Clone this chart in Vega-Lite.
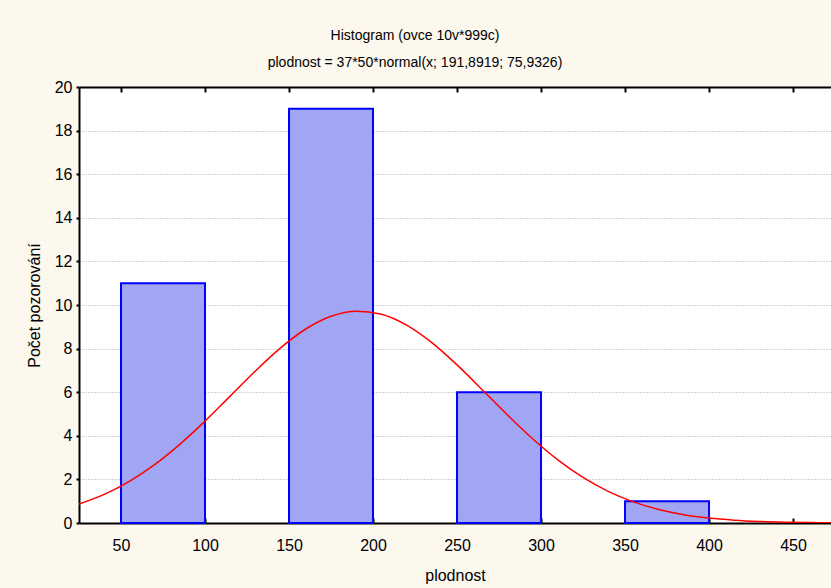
{
  "$schema": "https://vega.github.io/schema/vega-lite/v6.json",
  "autosize": {"type": "none"},
  "width": 752,
  "height": 436,
  "padding": {"left": 79, "top": 87, "right": 0, "bottom": 65},
  "background": "#fcf8ee",
  "config": {
    "font": "Liberation Sans",
    "view": {"stroke": null, "fill": "white"},
    "axis": {
      "labelFont": "Liberation Sans",
      "titleFont": "Liberation Sans",
      "labelFontSize": 16,
      "titleFontSize": 16,
      "titleFontWeight": "normal",
      "labelColor": "black",
      "titleColor": "black",
      "domainColor": "black",
      "domainWidth": 2,
      "tickColor": "black"
    }
  },
  "title": {
    "text": "Histogram (ovce 10v*999c)",
    "subtitle": "plodnost = 37*50*normal(x; 191,8919; 75,9326)",
    "font": "'Liberation Sans Narrow', 'Liberation Sans', sans-serif",
    "subtitleFont": "'Liberation Sans Narrow', 'Liberation Sans', sans-serif",
    "fontSize": 14,
    "subtitleFontSize": 14,
    "fontWeight": "normal",
    "color": "black",
    "subtitleColor": "black",
    "anchor": "middle",
    "frame": "group",
    "dx": -40,
    "offset": 9,
    "subtitlePadding": 13
  },
  "datasets": {
    "bins": [
      {"od": 50, "do": 100, "pocet": 11},
      {"od": 150, "do": 200, "pocet": 19},
      {"od": 250, "do": 300, "pocet": 6},
      {"od": 350, "do": 400, "pocet": 1}
    ],
    "curve": [
      {"x": 25, "y": 0.8683}, {"x": 40, "y": 1.3145}, {"x": 55, "y": 1.9138},
      {"x": 70, "y": 2.6798}, {"x": 85, "y": 3.6087}, {"x": 100, "y": 4.6735},
      {"x": 115, "y": 5.8208}, {"x": 130, "y": 6.9723}, {"x": 145, "y": 8.0324},
      {"x": 160, "y": 8.8992}, {"x": 175, "y": 9.4822}, {"x": 190, "y": 9.7167},
      {"x": 205, "y": 9.5760}, {"x": 220, "y": 9.0761}, {"x": 235, "y": 8.2730},
      {"x": 250, "y": 7.2522}, {"x": 265, "y": 6.1144}, {"x": 280, "y": 4.9578},
      {"x": 295, "y": 3.8659}, {"x": 310, "y": 2.8993}, {"x": 325, "y": 2.0911},
      {"x": 340, "y": 1.4504}, {"x": 355, "y": 0.9676}, {"x": 370, "y": 0.6208},
      {"x": 385, "y": 0.3831}, {"x": 400, "y": 0.2273}, {"x": 415, "y": 0.1297},
      {"x": 430, "y": 0.0712}, {"x": 445, "y": 0.0376}, {"x": 460, "y": 0.0191},
      {"x": 475, "y": 0.0093}
    ]
  },
  "layer": [
    {
      "data": {"name": "bins"},
      "mark": {"type": "rect", "fill": "#a0a6f4", "stroke": "#0000ff", "strokeWidth": 2},
      "encoding": {
        "x": {
          "field": "od", "type": "quantitative",
          "scale": {"domain": [25, 472.6], "nice": false, "zero": false},
          "axis": {
            "orient": "bottom", "title": "plodnost", "values": [50, 100, 150, 200, 250, 300, 350, 400, 450],
            "grid": false, "tickSize": -5, "tickWidth": 2, "labelPadding": 19, "titlePadding": 14
          }
        },
        "x2": {"field": "do"},
        "y": {
          "field": "pocet", "type": "quantitative",
          "scale": {"domain": [0, 20], "nice": false},
          "axis": {
            "title": "Počet pozorování", "values": [0, 2, 4, 6, 8, 10, 12, 14, 16, 18, 20],
            "grid": true, "gridColor": "#a8a8a8", "gridDash": [1, 2], "gridWidth": 1,
            "tickSize": 3, "tickWidth": 2, "labelPadding": 4, "titlePadding": 12
          }
        }
      }
    },
    {
      "data": {"name": "curve"},
      "mark": {"type": "line", "color": "#ff0000", "strokeWidth": 1.5, "interpolate": "monotone", "clip": true},
      "encoding": {
        "x": {
          "field": "x", "type": "quantitative",
          "axis": {
            "orient": "top", "title": null, "labels": false, "values": [50, 100, 150, 200, 250, 300, 350, 400, 450],
            "grid": false, "tickSize": -5, "tickWidth": 2
          }
        },
        "y": {"field": "y", "type": "quantitative"}
      }
    }
  ],
  "resolve": {"axis": {"x": "independent"}}
}
